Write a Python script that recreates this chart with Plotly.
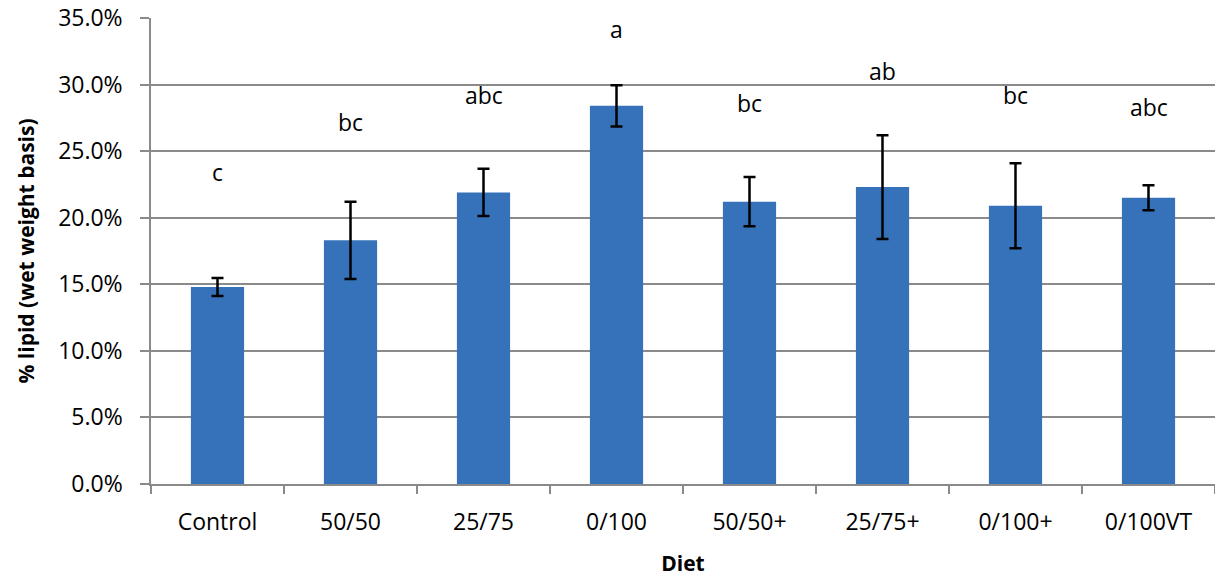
import plotly.graph_objects as go

diets = ["Control", "50/50", "25/75", "0/100", "50/50+", "25/75+", "0/100+", "0/100VT"]
lipid = [0.148, 0.183, 0.219, 0.284, 0.212, 0.223, 0.209, 0.215]
err = [0.0068, 0.029, 0.0177, 0.0154, 0.0185, 0.039, 0.0319, 0.0094]
letters = ["c", "bc", "abc", "a", "bc", "ab", "bc", "abc"]
letter_y = [0.234, 0.272, 0.292, 0.342, 0.286, 0.310, 0.292, 0.283]
y_ticks = [0, 0.05, 0.10, 0.15, 0.20, 0.25, 0.30, 0.35]

FONT = "Open Sans"

fig = go.Figure()
fig.add_trace(go.Bar(
    x=diets, y=lipid, width=0.4,
    marker=dict(color="#3672B9", line=dict(width=0)),
    error_y=dict(type="data", array=err, visible=True, color="black",
                 thickness=2.5, width=6),
))

for d, l, yy in zip(diets, letters, letter_y):
    fig.add_annotation(x=d, y=yy, text=l, showarrow=False,
                       font=dict(family=FONT, size=23, color="black"),
                       xanchor="center", yanchor="middle")

fig.update_layout(
    width=1215, height=578,
    margin=dict(l=151, r=0, t=18, b=94),
    paper_bgcolor="white", plot_bgcolor="white",
    showlegend=False,
    font=dict(family=FONT, size=23, color="black"),
    xaxis=dict(
        showline=True, linecolor="#8a8a8a", linewidth=1.5,
        ticks="outside", tickson="boundaries", ticklen=8, tickcolor="#8a8a8a",
        tickwidth=1.5, ticklabelstandoff=17,
        tickfont=dict(family=FONT, size=23, color="black"),
        title=dict(text="<b>Diet</b>", font=dict(family=FONT, size=21, color="black"),
                   standoff=20),
    ),
    yaxis=dict(
        range=[0, 0.35], tickvals=y_ticks, tickformat=".1%",
        showline=True, linecolor="#8a8a8a", linewidth=1.5,
        showgrid=True, gridcolor="#8a8a8a", gridwidth=1.5,
        ticks="outside", ticklen=9, tickcolor="#8a8a8a", tickwidth=1.5,
        ticklabelstandoff=13, zeroline=False,
        tickfont=dict(family=FONT, size=23, color="black"),
        title=dict(text="<b>% lipid (wet weight basis)</b>",
                   font=dict(family=FONT, size=21, color="black"), standoff=18),
    ),
)

fig.write_html("out.html")
